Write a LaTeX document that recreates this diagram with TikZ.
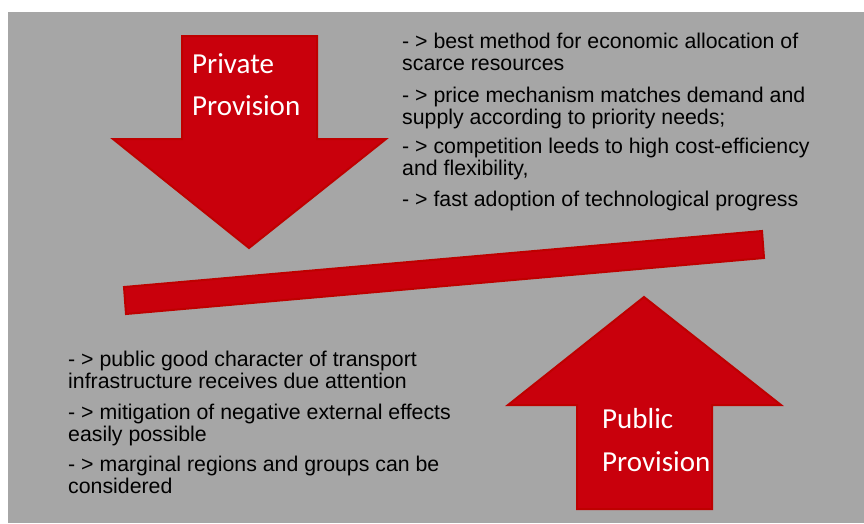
\documentclass[tikz,border=0pt]{standalone}
\usepackage{fontspec}
\setmainfont{Liberation Sans}
\newfontfamily\calib{Carlito}
\definecolor{bggray}{RGB}{166,166,166}
\definecolor{arrowred}{RGB}{201,0,12}
\definecolor{edgered}{RGB}{190,0,0}
\begin{document}
\begin{tikzpicture}[x=1pt,y=-1pt,
  redshape/.style={fill=arrowred,draw=edgered,line width=2pt,line join=miter},
  arrowlabel/.style={anchor=base west,inner sep=0pt,text=white,font=\calib\fontsize{29}{42}\selectfont,align=left},
  bullets/.style={anchor=base west,inner sep=0pt,text=black,font=\fontsize{21.3}{22}\selectfont,align=left}]
\useasboundingbox (0,0) rectangle (864,523);
\fill[bggray] (8,12) rectangle (864,523);
% Private provision arrow (down)
\draw[redshape] (182,36) -- (317,36) -- (317,139) -- (386,139) -- (249,248) -- (113,139) -- (182,139) -- cycle;
% Public provision arrow (up)
\draw[redshape] (644,297) -- (781,405) -- (712,405) -- (712,509) -- (577,509) -- (577,405) -- (508,405) -- cycle;
% balance bar
\draw[redshape] (124,287) -- (762,231) -- (764,258) -- (126,314) -- cycle;
\node[arrowlabel] (priv1) at (192,73) {Private};
\node[arrowlabel] (priv2) at (192,115) {Provision};
\node[arrowlabel] (pub1) at (602,428) {Public};
\node[arrowlabel] (pub2) at (602,471) {Provision};
% base anchor of a multi-line node = baseline of its last line
\node[bullets] (t1) at (402,70) {- > best method for economic allocation of\\scarce resources};
\node[bullets] (t2) at (402,124) {- > price mechanism matches demand and\\supply according to priority needs;};
\node[bullets] (t3) at (402,175) {- > competition leeds to high cost-efficiency\\and flexibility,};
\node[bullets] (t4) at (402,206) {- > fast adoption of technological progress};
\node[bullets] (b1) at (68,388) {- > public good character of transport\\infrastructure receives due attention};
\node[bullets] (b2) at (68,441) {- > mitigation of negative external effects\\easily possible};
\node[bullets] (b3) at (68,493) {- > marginal regions and groups can be\\considered};
\end{tikzpicture}
\end{document}
